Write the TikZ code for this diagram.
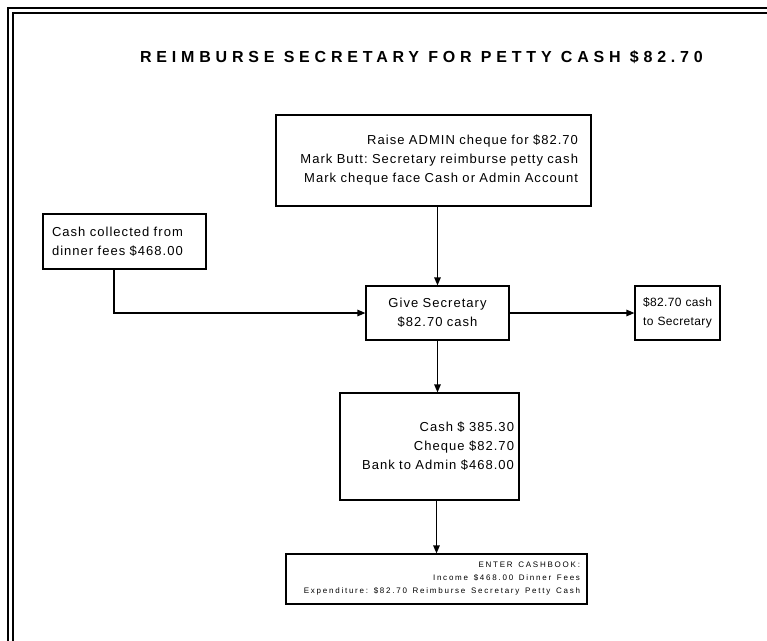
\documentclass[tikz,border=0pt]{standalone}
\usepackage{fontspec}
\setmainfont{Liberation Sans}
\newfontfamily\boxfont[LetterSpace=8]{Liberation Sans}
\newfontfamily\narrowfont[LetterSpace=3]{Liberation Sans}
\newfontfamily\titlefont[LetterSpace=30]{Liberation Sans}
\newfontfamily\smallfont[LetterSpace=22]{Liberation Sans}
\newcommand\wgap{\hspace{3pt}}
\usetikzlibrary{arrows.meta}
\frenchspacing

\begin{document}
\begin{tikzpicture}[x=1pt,y=-1pt,>/.tip={Triangle[length=8pt,width=6.5pt]},
	box/.style={draw,line width=1.2pt,shape=rectangle,inner sep=0pt,font=\boxfont\fontsize{13}{19}\selectfont},
	flow/.style={->,line width=1.2pt}]
	\useasboundingbox (0,0) rectangle (767,640);
	\clip (0,0) rectangle (767,640);
	% double frame
	\draw[line width=2.2pt] (8,8) rectangle (800,700);
	\draw[line width=2.2pt] (13,13) rectangle (795,695);
	\draw (421.5,57) node (title) [font=\titlefont\bfseries\fontsize{16}{19}\selectfont] {REIMBURSE SECRETARY FOR PETTY CASH \$82.70};
	\draw (433.5,160.5) node (raise) [box,minimum width=315pt,minimum height=91pt,text width=289pt,align=right] {Raise ADMIN cheque for \$82.70\\Mark Butt: Secretary reimburse petty cash\\Mark cheque face Cash or Admin Account};
	\draw (124.5,241.5) node (collect) [box,minimum width=163pt,minimum height=55pt,text width=145pt,align=left] {Cash collected from\\dinner fees \$468.00};
	\draw (437.5,313) node (give) [box,minimum width=143pt,minimum height=54pt,text width=125pt,align=center] {Give Secretary\\\$82.70 cash};
	\draw (677.5,313) node (paid) [box,minimum width=85pt,minimum height=54pt,text width=80pt,align=center,font=\narrowfont\fontsize{12}{19}\selectfont] {\$82.70 cash\\to Secretary};
	\draw (429.5,446.5) node (bank) [box,minimum width=179pt,minimum height=107pt,text width=169pt,align=right] {Cash \$ 385.30\\Cheque \$82.70\\Bank to Admin \$468.00};
	\draw (436.5,579) node (entry) [box,minimum width=301pt,minimum height=50pt,text width=287pt,align=right,font=\smallfont\fontsize{8}{13}\selectfont] {ENTER \wgap CASHBOOK:\\Income \wgap \$468.00 \wgap Dinner \wgap Fees\\Expenditure: \wgap \$82.70 \wgap Reimburse \wgap Secretary \wgap Petty \wgap Cash};

	\draw[flow] (raise.south -| give.north) -- (give.north);
	\draw[flow] ([xshift=-10.5pt]collect.south) |- (give.west);
	\draw[flow] (give.east) -- (paid.west);
	\draw[flow] (give.south) -- (give.south |- bank.north);
	\draw[flow] (bank.south -| entry.north) -- (entry.north);
\end{tikzpicture}
\end{document}
